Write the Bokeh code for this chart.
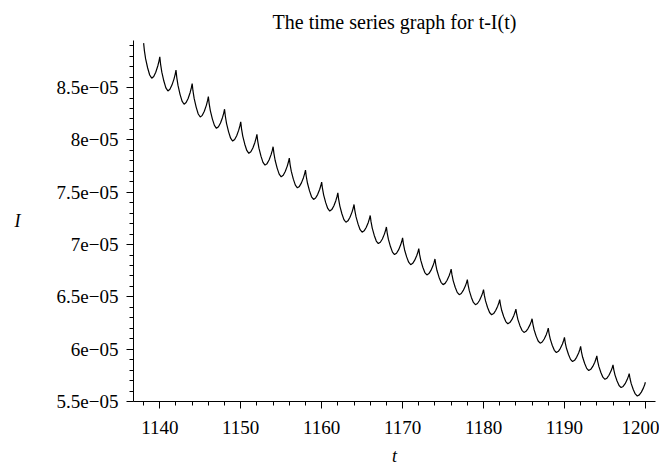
from bokeh.plotting import figure
from bokeh.models import FixedTicker, CustomJSTickFormatter, Range1d
from bokeh.embed import file_html
from bokeh.resources import INLINE

# ---- data (I in units of 1e-5) ----
t_peak = [1138, 1140, 1142, 1144, 1146, 1148, 1150, 1152, 1154, 1156, 1158,
          1160, 1162, 1164, 1166, 1168, 1170, 1172, 1174, 1176, 1178, 1180,
          1182, 1184, 1186, 1188, 1190, 1192, 1194, 1196, 1198, 1200]
I_peak = [8.925, 8.794, 8.667, 8.538, 8.414, 8.293, 8.172, 8.054, 7.935, 7.827, 7.712,
          7.597, 7.494, 7.383, 7.278, 7.168, 7.063, 6.961, 6.862, 6.766, 6.665, 6.569,
          6.473, 6.383, 6.291, 6.201, 6.112, 6.026, 5.936, 5.850, 5.767, 5.684]
t_trough = [1139, 1141, 1143, 1145, 1147, 1149, 1151, 1153, 1155, 1157, 1159,
            1161, 1163, 1165, 1167, 1169, 1171, 1173, 1175, 1177, 1179, 1181,
            1183, 1185, 1187, 1189, 1191, 1193, 1195, 1197, 1199]
I_trough = [8.590, 8.468, 8.341, 8.219, 8.111, 7.989, 7.872, 7.759, 7.647, 7.542, 7.431,
            7.320, 7.213, 7.118, 7.009, 6.904, 6.808, 6.710, 6.617, 6.521, 6.425, 6.329,
            6.243, 6.160, 6.057, 5.968, 5.882, 5.796, 5.712, 5.633, 5.553]
# shape of one cycle: (offset after peak, fraction of fall / rise)
fall_offset = [0.1, 0.25, 0.5, 0.75]
fall_frac = [0.22, 0.45, 0.71, 0.91]
rise_offset = [1.25, 1.5, 1.75, 1.9]
rise_frac = [0.08, 0.28, 0.57, 0.80]

x_ticks = [1140, 1150, 1160, 1170, 1180, 1190, 1200]
x_tick_labels = ["1140", "1150", "1160", "1170", "1180", "1190", "1200"]
y_ticks = [5.5e-5, 6e-5, 6.5e-5, 7e-5, 7.5e-5, 8e-5, 8.5e-5]
y_tick_labels = ["5.5e\u221205", "6e\u221205", "6.5e\u221205", "7e\u221205",
                 "7.5e\u221205", "8e\u221205", "8.5e\u221205"]
SCALE = 1e-5

# ---- build the curve ----
ts, Is = [], []
for k in range(len(t_trough)):
    t0, P, T, P2 = t_peak[k], I_peak[k], I_trough[k], I_peak[k + 1]
    ts.append(t0); Is.append(P * SCALE)
    for o, f in zip(fall_offset, fall_frac):
        ts.append(t0 + o); Is.append((P - f * (P - T)) * SCALE)
    ts.append(t_trough[k]); Is.append(T * SCALE)
    for o, f in zip(rise_offset, rise_frac):
        ts.append(t0 + o); Is.append((T + f * (P2 - T)) * SCALE)
ts.append(t_peak[-1]); Is.append(I_peak[-1] * SCALE)

FONT = "Liberation Serif"
X0, X1 = 1136.75, 1201.25
Y0, Y1 = 5.5e-5, 8.95e-5

p = figure(width=659, height=470, output_backend="svg", toolbar_location=None,
           x_range=Range1d(X0, X1), y_range=Range1d(Y0, Y1),
           min_border_left=133, min_border_right=4, min_border_top=40,
           min_border_bottom=69)
p.outline_line_color = None
p.grid.visible = False
p.background_fill_color = "white"

p.line(ts, Is, line_color="black", line_width=1.2)

p.xaxis.ticker = FixedTicker(ticks=x_ticks, minor_ticks=list(range(1138, 1201, 2)))
p.yaxis.ticker = FixedTicker(ticks=y_ticks, minor_ticks=[v * 1e-6 for v in range(55, 90)])
p.xaxis.formatter = CustomJSTickFormatter(
    args=dict(xt=x_ticks, xl=x_tick_labels),
    code="const i = xt.findIndex(v => Math.abs(v - tick) < 1e-6); return i >= 0 ? xl[i] : '';")
p.yaxis.formatter = CustomJSTickFormatter(
    args=dict(yt=y_ticks, yl=y_tick_labels),
    code="const i = yt.findIndex(v => Math.abs(v - tick) < 1e-12); return i >= 0 ? yl[i] : '';")

for ax in (p.xaxis[0], p.yaxis[0]):
    ax.axis_line_color = "black"
    ax.axis_line_width = 1
    ax.major_tick_in = 0
    ax.major_tick_out = 7
    ax.minor_tick_in = 0
    ax.minor_tick_out = 4
    ax.major_tick_line_color = "black"
    ax.minor_tick_line_color = "black"
    ax.major_label_text_font = FONT
    ax.major_label_text_font_size = "19px"
    ax.major_label_text_color = "black"
    ax.axis_label_text_font = FONT
    ax.axis_label_text_font_style = "italic"
    ax.axis_label_text_font_size = "18px"
    ax.axis_label_text_color = "black"

p.xaxis.major_label_standoff = 12
p.yaxis.major_label_standoff = 8

p.xaxis.axis_label = "t"
p.xaxis.axis_label_standoff = 9

p.yaxis.axis_label = "I"
p.yaxis.axis_label_orientation = "horizontal"
p.yaxis.axis_label_standoff = 33

p.title.text = "The time series graph for t-I(t)"
p.title.align = "center"
p.title.offset = 11
p.title.standoff = 16
p.title.text_font = FONT
p.title.text_font_style = "normal"
p.title.text_font_size = "20px"
p.title.text_color = "black"

open("out.html", "w").write(file_html(p, INLINE))
